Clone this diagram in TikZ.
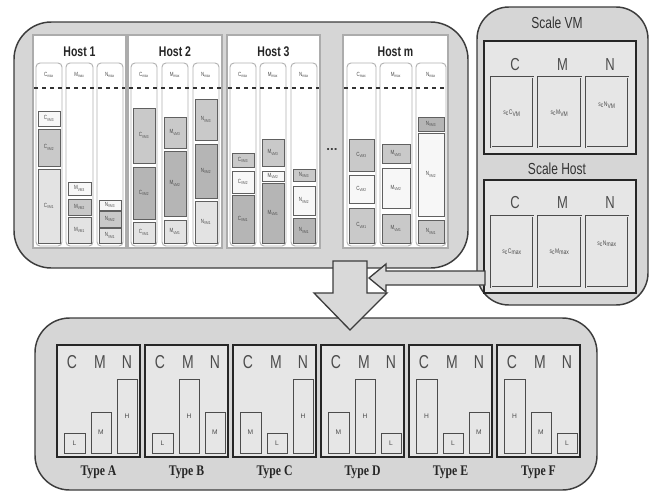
\documentclass[tikz,border=0pt]{standalone}
\usepackage{fontspec}
\setmainfont{Liberation Sans}
\newfontfamily\narrow[FakeStretch=0.75]{Liberation Sans}
\newfontfamily\serifn[FakeStretch=0.8]{Liberation Serif}
\definecolor{outerfill}{HTML}{D6D6D6}
\definecolor{innerfill}{HTML}{E6E6E6}
\definecolor{edge}{HTML}{3C3C3C}
\colorlet{wh}{gray!6}
\colorlet{lt}{gray!22}
\colorlet{md}{gray!42}
\colorlet{dk}{gray!58}
\tikzset{
  panel/.style={fill=outerfill,draw=edge,line width=1.1pt,rounded corners=28},
  hostpanel/.style={fill=white,draw=gray!65,line width=1.3pt},
  colbox/.style={fill=white,draw=gray!60,line width=0.7pt,rounded corners=3},
  blk/.style={draw=gray!75!black,line width=0.5pt},
  lbl/.style={font=\narrow\fontsize{4.5}{4.5}\selectfont,text=gray!60!black,inner sep=0pt},
  hosttitle/.style={font=\narrow\bfseries\fontsize{10.5}{12}\selectfont,text=black!85},
  scaletitle/.style={font=\narrow\fontsize{12}{13}\selectfont,text=black!80},
  cmn/.style={font=\narrow\fontsize{13}{14}\selectfont,text=black!70},
  typebox/.style={fill=innerfill,draw=black!85,line width=1.6pt},
  bar/.style={fill=innerfill,draw=gray!60!black,line width=0.7pt},
  barlbl/.style={font=\fontsize{5}{5}\selectfont,text=gray!60!black,inner sep=0pt},
  typelbl/.style={font=\serifn\bfseries\fontsize{11}{12}\selectfont,text=black!85},
  scalebox/.style={fill=innerfill,draw=black!85,line width=1.5pt},
  scell/.style={fill=innerfill,draw=gray!60!black,line width=0.8pt,double=innerfill,double distance=0.6pt},
  bigarrow/.style={fill=gray!30,draw=edge,line width=1pt,line join=miter},
}
\newcommand{\vmb}[6]{\draw[blk,fill=#5] ({#1+2},#3) rectangle ({#2-2},#4);
  \node[lbl] at ({(#1+#2)/2},{(#3+#4)/2}) {#6};}
\newcommand{\vmcol}[3]{\draw[colbox] (#1,63) rectangle (#2,246);
  \node[lbl] at ({(#1+#2)/2},75) {#3\textsubscript{max}};}
\begin{document}
\begin{tikzpicture}[x=0.75pt,y=-0.75pt]
\useasboundingbox (0,0) rectangle (656,493);

% ---------- top container ----------
\draw[panel] (14,22) rectangle (468,268);

% host panels
\draw[hostpanel] (33,35) rectangle (126,248);
\draw[hostpanel] (128,35) rectangle (222,248);
\draw[hostpanel] (227,35) rectangle (320,248);
\draw[hostpanel] (343,35) rectangle (448,248);
\node[hosttitle] (h1) at (79.5,52) {Host 1};
\node[hosttitle] (h2) at (175,52) {Host 2};
\node[hosttitle] (h3) at (273.5,52) {Host 3};
\node[hosttitle] (hm) at (395.5,52) {Host m};
\node[font=\bfseries\fontsize{10}{10}\selectfont,text=black!75] (dots) at (332,150) {...};

% columns
\vmcol{36}{62}{C}\vmcol{66}{93}{M}\vmcol{97}{123}{N}
\vmcol{131}{157}{C}\vmcol{162}{188}{M}\vmcol{193}{219}{N}
\vmcol{230}{256}{C}\vmcol{260}{286}{M}\vmcol{291}{317}{N}
\vmcol{347}{376}{C}\vmcol{380}{412}{M}\vmcol{416}{446}{N}

% dashed lines
\foreach \a/\b in {34/125,129/221,228/319,344/447}
  \draw[dashed,line width=0.8pt,black!80] (\a,88) -- (\b,88);

% host 1 blocks
\vmb{36}{62}{111}{126}{wh}{C\textsubscript{VM3}}
\vmb{36}{62}{129}{166}{md}{C\textsubscript{VM2}}
\vmb{36}{62}{169}{243}{lt}{C\textsubscript{VM1}}
\vmb{66}{93}{182}{195}{wh}{M\textsubscript{VM3}}
\vmb{66}{93}{199}{215}{md}{M\textsubscript{VM2}}
\vmb{66}{93}{217}{243}{lt}{M\textsubscript{VM1}}
\vmb{97}{123}{200}{210}{wh}{N\textsubscript{VM3}}
\vmb{97}{123}{211}{227}{md}{N\textsubscript{VM2}}
\vmb{97}{123}{228}{243}{lt}{N\textsubscript{VM1}}
% host 2 blocks
\vmb{131}{157}{108}{163}{md}{C\textsubscript{VM3}}
\vmb{131}{157}{167}{219}{dk}{C\textsubscript{VM2}}
\vmb{131}{157}{222}{243}{lt}{C\textsubscript{VM1}}
\vmb{162}{188}{117}{148}{md}{M\textsubscript{VM3}}
\vmb{162}{188}{151}{216}{dk}{M\textsubscript{VM2}}
\vmb{162}{188}{220}{243}{lt}{M\textsubscript{VM1}}
\vmb{193}{219}{99}{140}{md}{N\textsubscript{VM3}}
\vmb{193}{219}{144}{198}{dk}{N\textsubscript{VM2}}
\vmb{193}{219}{201}{243}{lt}{N\textsubscript{VM1}}
% host 3 blocks
\vmb{230}{256}{153}{167}{md}{C\textsubscript{VM3}}
\vmb{230}{256}{171}{193}{wh}{C\textsubscript{VM2}}
\vmb{230}{256}{195}{243}{dk}{C\textsubscript{VM1}}
\vmb{260}{286}{139}{166}{md}{M\textsubscript{VM3}}
\vmb{260}{286}{171}{181}{wh}{M\textsubscript{VM2}}
\vmb{260}{286}{183}{243}{dk}{M\textsubscript{VM1}}
\vmb{291}{317}{169}{181}{md}{N\textsubscript{VM3}}
\vmb{291}{317}{186}{215}{wh}{N\textsubscript{VM2}}
\vmb{291}{317}{218}{243}{dk}{N\textsubscript{VM1}}
% host m blocks
\vmb{347}{376}{139}{171}{md}{C\textsubscript{VM3}}
\vmb{347}{376}{175}{203}{wh}{C\textsubscript{VM2}}
\vmb{347}{376}{208}{243}{md}{C\textsubscript{VM1}}
\vmb{380}{412}{144}{163}{md}{M\textsubscript{VM3}}
\vmb{380}{412}{168}{208}{wh}{M\textsubscript{VM2}}
\vmb{380}{412}{214}{243}{md}{M\textsubscript{VM1}}
\vmb{416}{446}{117}{131}{dk}{N\textsubscript{VM3}}
\vmb{416}{446}{133}{216}{wh}{N\textsubscript{VM2}}
\vmb{416}{446}{220}{243}{md}{N\textsubscript{VM1}}

% ---------- right container ----------
\draw[panel,rounded corners=24] (477,7) rectangle (648,305);
\node[scaletitle] (svm) at (557,23) {Scale VM};
\draw[scalebox] (484,41) rectangle (636,154);
\node[scaletitle] (shost) at (557,169) {Scale Host};
\draw[scalebox] (484,180) rectangle (636,293);
\foreach \l/\r/\c/\dy in {491/533/C/0,538/581/M/0,586/628/N/-8}{
  \draw[scell] (\l,77) rectangle (\r,147);
  \draw[scell] (\l,216) rectangle (\r,287);
  \node[cmn] at ({(\l+\r)/2+3},65) {\c};
  \node[cmn] at ({(\l+\r)/2+3},203) {\c};
  \node[lbl,font=\narrow\fontsize{5}{5}\selectfont] at ({(\l+\r)/2},{113+\dy}) {s\textsubscript{c}\c\textsubscript{VM}};
  \node[lbl,font=\narrow\fontsize{5}{5}\selectfont] at ({(\l+\r)/2},{252+\dy}) {s\textsubscript{c}\c\textsubscript{max}};
}

% ---------- bottom container ----------
\draw[panel,rounded corners=26] (35,318) rectangle (597,490);
\foreach \i/\t/\la/\ha/\lb/\hb/\lc/\hc in {0/A/L/20/M/41/H/74, 1/B/L/20/H/74/M/41, 2/C/M/41/L/20/H/74, 3/D/M/41/H/74/L/20, 4/E/H/74/L/20/M/41, 5/F/H/74/M/41/L/20}{
  \pgfmathsetmacro{\xo}{57+88*\i}
  \draw[typebox] (\xo,345) rectangle ({\xo+83},457);
  \node[cmn,font=\narrow\fontsize{14}{14}\selectfont] at ({\xo+15},362) {C};
  \node[cmn,font=\narrow\fontsize{14}{14}\selectfont] at ({\xo+43},362) {M};
  \node[cmn,font=\narrow\fontsize{14}{14}\selectfont] at ({\xo+70},362) {N};
  \draw[bar] ({\xo+7},{453-\ha}) rectangle ({\xo+28},453);
  \node[barlbl] at ({\xo+17.5},{453-\ha/2}) {\la};
  \draw[bar] ({\xo+34},{453-\hb}) rectangle ({\xo+54},453);
  \node[barlbl] at ({\xo+44},{453-\hb/2}) {\lb};
  \draw[bar] ({\xo+60},{453-\hc}) rectangle ({\xo+80},453);
  \node[barlbl] at ({\xo+70},{453-\hc/2}) {\lc};
  \node[typelbl] (type\t) at ({\xo+41.5},472) {Type \t};
}

% ---------- arrows ----------
\draw[bigarrow] (333,261) -- (333,293) -- (314,293) -- (350,330) -- (387,293) -- (367,293) -- (367,261) -- cycle;
\draw[bigarrow] (485,271) -- (386,271) -- (386,264) -- (369,278) -- (386,292) -- (386,285) -- (485,285) -- cycle;
\end{tikzpicture}
\end{document}
